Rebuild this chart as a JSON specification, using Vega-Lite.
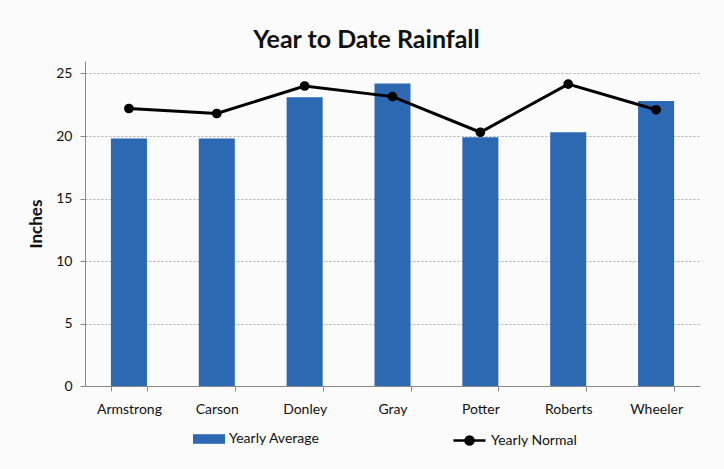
{
  "$schema": "https://vega.github.io/schema/vega-lite/v6.json",
  "width": 615,
  "height": 325,
  "autosize": {"type": "none"},
  "padding": {"left": 85, "top": 61, "right": 24, "bottom": 83},
  "background": "#fbfbfc",
  "title": {
    "text": "Year to Date Rainfall",
    "font": "Lato",
    "fontSize": 25,
    "fontWeight": "bold",
    "color": "#111111",
    "anchor": "middle",
    "dx": -26,
    "offset": 8
  },
  "data": {
    "values": [
      {"county": "Armstrong", "average": 19.8, "normal": 22.2},
      {"county": "Carson", "average": 19.8, "normal": 21.8},
      {"county": "Donley", "average": 23.1, "normal": 24.0},
      {"county": "Gray", "average": 24.2, "normal": 23.15},
      {"county": "Potter", "average": 19.9, "normal": 20.3},
      {"county": "Roberts", "average": 20.3, "normal": 24.15},
      {"county": "Wheeler", "average": 22.8, "normal": 22.1}
    ]
  },
  "config": {
    "font": "Lato",
    "view": {"stroke": null},
    "axis": {
      "labelFont": "Lato",
      "labelFontSize": 14,
      "labelColor": "#111111",
      "domainColor": "#888888",
      "tickColor": "#888888",
      "tickSize": 5
    }
  },
  "encoding": {
    "x": {
      "field": "county",
      "type": "nominal",
      "sort": null,
      "scale": {"paddingInner": 0.59, "paddingOuter": 0.295},
      "axis": {
        "title": null,
        "labelAngle": 0,
        "tickBand": "extent",
        "labelPadding": 11
      }
    }
  },
  "layer": [
    {
      "mark": {"type": "bar", "color": "#2C69B2"},
      "encoding": {
        "y": {
          "field": "average",
          "type": "quantitative",
          "scale": {"domain": [0, 25]},
          "axis": {
            "title": "Inches",
            "titleFont": "Lato",
            "titleFontSize": 17,
            "titleFontWeight": "bold",
            "titleColor": "#111111",
            "titlePadding": 10,
            "values": [0, 5, 10, 15, 20, 25],
            "grid": true,
            "gridColor": "#9a9a9a",
            "gridDash": [2, 2],
            "gridWidth": 0.8,
            "labelPadding": 8
          }
        },
        "fill": {
          "datum": "Yearly Average",
          "scale": {"range": ["#2C69B2"]},
          "legend": {
            "title": null,
            "orient": "none",
            "legendX": 108,
            "legendY": 362,
            "padding": 0,
            "symbolType": "M-1,-0.3H1V0.3H-1Z",
            "symbolSize": 1024,
            "symbolStrokeWidth": 0,
            "labelFont": "Lato",
            "labelFontSize": 14,
            "labelColor": "#111111",
            "labelOffset": 4
          }
        }
      }
    },
    {
      "mark": {
        "type": "line",
        "color": "#000000",
        "strokeWidth": 3,
        "point": {"filled": true, "size": 60, "color": "#000000"}
      },
      "encoding": {
        "y": {"field": "normal", "type": "quantitative"},
        "stroke": {
          "datum": "Yearly Normal",
          "scale": {"range": ["#000000"]},
          "legend": {
            "title": null,
            "orient": "none",
            "legendX": 367,
            "legendY": 362,
            "padding": 0,
            "symbolType": "M-1,0H1M0.25,0A0.25,0.25 0 1,1 -0.25,0A0.25,0.25 0 1,1 0.25,0Z",
            "symbolSize": 1024,
            "symbolStrokeWidth": 2.5,
            "symbolFillColor": "#000000",
            "symbolStrokeColor": "#000000",
            "labelFont": "Lato",
            "labelFontSize": 14,
            "labelColor": "#111111",
            "labelOffset": 4
          }
        }
      }
    }
  ]
}
